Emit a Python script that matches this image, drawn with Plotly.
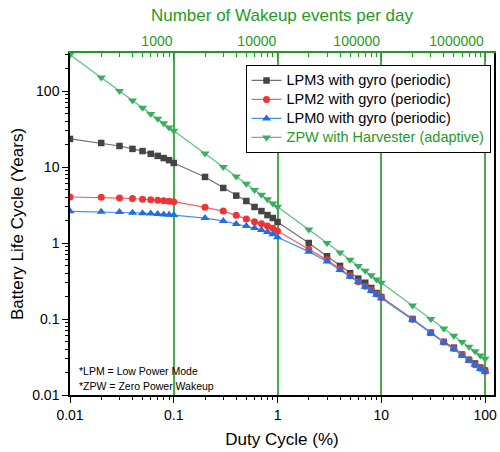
import plotly.graph_objects as go

duty = [0.01, 0.02, 0.03, 0.04, 0.05, 0.06, 0.07, 0.08, 0.09,
        0.1, 0.2, 0.3, 0.4, 0.5, 0.6, 0.7, 0.8, 0.9,
        1, 2, 3, 4, 5, 6, 7, 8, 9,
        10, 20, 30, 40, 50, 60, 70, 80, 90, 100]

lpm3 = [23.4, 20.7, 18.9, 17.3, 16.2, 14.9, 14.0, 13.1, 12.3,
        11.3, 7.4, 5.3, 4.2, 3.57, 2.98, 2.63, 2.33, 2.13,
        1.89, 1.0, 0.67, 0.50, 0.40, 0.34, 0.30, 0.256, 0.22,
        0.195, 0.100, 0.066, 0.050, 0.042, 0.034, 0.029, 0.026, 0.023, 0.021]

lpm2 = [4.03, 4.0, 3.9, 3.85, 3.75, 3.7, 3.65, 3.6, 3.55,
        3.5, 2.95, 2.63, 2.31, 2.07, 1.91, 1.79, 1.67, 1.56,
        1.44, 0.83, 0.60, 0.46, 0.37, 0.31, 0.27, 0.24, 0.213,
        0.192, 0.099, 0.066, 0.050, 0.041, 0.034, 0.029, 0.025, 0.0225, 0.0205]

lpm0 = [2.61, 2.58, 2.55, 2.5, 2.47, 2.44, 2.41, 2.38, 2.35,
        2.33, 2.13, 1.95, 1.78, 1.67, 1.57, 1.48, 1.40, 1.30,
        1.19, 0.77, 0.57, 0.44, 0.36, 0.31, 0.266, 0.234, 0.209,
        0.187, 0.098, 0.065, 0.049, 0.040, 0.033, 0.0285, 0.025, 0.022, 0.0202]

zpw = [300, 150, 100, 75, 60, 50, 43, 37.5, 33,
       30, 15, 10, 7.5, 6, 5, 4.3, 3.75, 3.3,
       3.0, 1.5, 1.0, 0.75, 0.6, 0.5, 0.43, 0.375, 0.33,
       0.30, 0.15, 0.10, 0.075, 0.06, 0.05, 0.043, 0.0375, 0.033, 0.030]

bottom_ticks = [0.01, 0.1, 1, 10, 100]
bottom_labels = ["0.01", "0.1", "1", "10", "100"]
y_ticks = [0.01, 0.1, 1, 10, 100]
y_labels = ["0.01", "0.1", "1", "10", "100"]
top_ticks = [1000, 10000, 100000, 1000000]
top_labels = ["1000", "10000", "100000", "1000000"]

GREEN = "#1f9b1f"
FONT = "Liberation Sans"

series = [
    ("LPM3 with gyro (periodic)", lpm3, "square", "#444444", "#707070", 6.5, "black"),
    ("LPM2 with gyro (periodic)", lpm2, "circle", "#ee3535", "#f26060", 7, "black"),
    ("LPM0 with gyro (periodic)", lpm0, "triangle-up", "#1f6fdf", "#4a8ee8", 8, "black"),
    ("ZPW with Harvester (adaptive)", zpw, "triangle-down", "#3aae5e", "#5cc07e", 8, GREEN),
]

fig = go.Figure()
for name, vals, sym, mc, lc, ms, tc in series:
    label = "<span style='font-size:14.5px;color:%s'>%s</span>" % (tc, name)
    fig.add_trace(go.Scatter(
        x=duty, y=vals, name=label, mode="lines+markers",
        line=dict(color=lc, width=1.2),
        marker=dict(symbol=sym, color=mc, size=ms, line=dict(width=0)),
    ))

# invisible trace to activate the top axis
fig.add_trace(go.Scatter(x=top_ticks, y=[1] * len(top_ticks), xaxis="x2",
                         mode="markers", marker=dict(opacity=0),
                         showlegend=False, hoverinfo="skip"))

def minors(lo, hi):
    return [k * 10 ** e for e in range(lo, hi) for k in range(2, 10)]

fig.update_layout(
    width=500, height=452,
    margin=dict(l=70, r=3, t=53, b=57),
    paper_bgcolor="white", plot_bgcolor="white",
    font=dict(family=FONT, size=14, color="black"),
    showlegend=True,
    legend=dict(x=0.414, y=0.965, xanchor="left", yanchor="top",
                bordercolor="black", borderwidth=1, bgcolor="white",
                font=dict(size=10.8, family=FONT), tracegroupgap=0,
                itemwidth=30),
    xaxis=dict(type="log", range=[-2, 2.086],
               tickvals=bottom_ticks, ticktext=bottom_labels,
               ticks="outside", ticklen=6, tickcolor="black",
               showline=True, linecolor="black", linewidth=1.5,
               showgrid=False, zeroline=False,
               minor=dict(tickvals=minors(-2, 2), ticks="outside", ticklen=3,
                          tickcolor="black", showgrid=False),
               title=dict(text="Duty Cycle (%)", font=dict(size=17), standoff=12)),
    xaxis2=dict(type="log", range=[2, 6.086], overlaying="x", side="top",
                tickvals=top_ticks, ticktext=top_labels,
                ticklabelposition="outside left",
                ticks="inside", ticklen=8, tickcolor=GREEN,
                tickfont=dict(color=GREEN, size=14),
                showline=True, linecolor=GREEN, linewidth=1.5,
                showgrid=True, gridcolor="#48ad48", gridwidth=1.6,
                zeroline=False,
                minor=dict(tickvals=minors(2, 7), ticks="inside", ticklen=4,
                           tickcolor=GREEN, showgrid=False),
                title=dict(text="Number of Wakeup events per day",
                           font=dict(size=17, color=GREEN), standoff=7)),
    yaxis=dict(type="log", range=[-2, 2.5],
               tickvals=y_ticks, ticktext=y_labels,
               ticks="outside", ticklen=6, tickcolor="black",
               showline=True, linecolor="black", linewidth=1.5, mirror=True,
               showgrid=False, zeroline=False,
               minor=dict(tickvals=minors(-2, 3), ticks="outside", ticklen=3,
                          tickcolor="black", showgrid=False),
               title=dict(text="Battery Life Cycle (Years)", font=dict(size=17),
                          standoff=4)),
)

fig.add_annotation(text="*LPM = Low Power Mode", xref="paper", yref="paper",
                   x=0.0164, y=0.0702, xanchor="left", yanchor="middle",
                   showarrow=False, font=dict(size=10.5, family=FONT))
fig.add_annotation(text="*ZPW = Zero Power Wakeup", xref="paper", yref="paper",
                   x=0.0164, y=0.0263, xanchor="left", yanchor="middle",
                   showarrow=False, font=dict(size=10.5, family=FONT))

fig.write_html("out.html", config={"displayModeBar": False},
               post_script="document.body.style.margin='0';"
                           "document.body.style.padding='0';")
